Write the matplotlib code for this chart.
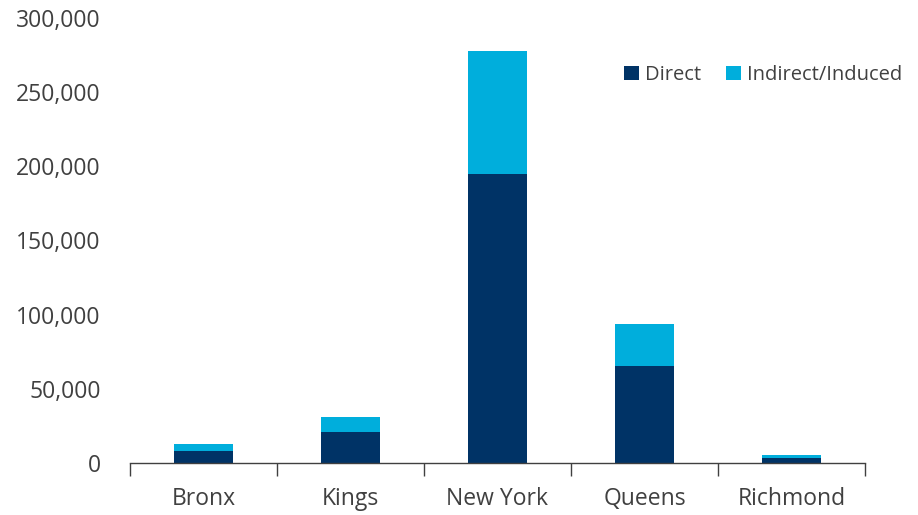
import numpy as np
import matplotlib
matplotlib.use("Agg")
import matplotlib.pyplot as plt
from matplotlib.ticker import FuncFormatter, FixedLocator

boroughs = ["Bronx", "Kings", "New York", "Queens", "Richmond"]
direct = [8300, 21100, 194800, 65400, 3600]
indirect = [4300, 9900, 82700, 28100, 1600]

DARK = "#003366"
LIGHT = "#00AEDC"
TXT = "#404040"

plt.rcParams["font.family"] = ["Open Sans", "DejaVu Sans"]

fig = plt.figure(figsize=(9.18, 5.15), dpi=100)
ax = fig.add_axes([130 / 918, 1 - 463 / 515, 735 / 918, 445 / 515])

x = np.arange(len(boroughs))
ax.bar(x, direct, width=0.4, color=DARK, label="Direct")
ax.bar(x, indirect, width=0.4, bottom=direct, color=LIGHT, label="Indirect/Induced")

ax.set_xlim(-0.5, len(boroughs) - 0.5)
ax.set_ylim(0, 300000)
ax.set_yticks(np.arange(0, 300001, 50000))
ax.yaxis.set_major_formatter(FuncFormatter(lambda v, p: f"{int(v):,}"))
ax.set_xticks(x)
ax.set_xticklabels(boroughs)
ax.xaxis.set_minor_locator(FixedLocator(np.arange(-0.5, len(boroughs), 1.0)))

for s in ["top", "right", "left"]:
    ax.spines[s].set_visible(False)
ax.spines["bottom"].set_color("#404040")
ax.spines["bottom"].set_linewidth(1.0)

ax.tick_params(axis="y", length=0, labelsize=16.5, labelcolor=TXT, pad=21)
ax.tick_params(axis="x", which="major", length=0, labelsize=16.5, labelcolor=TXT, pad=17)
ax.tick_params(axis="x", which="minor", length=9, width=1.0, color="#404040", direction="out")

leg = ax.legend(loc="upper right", bbox_to_anchor=(1.075, 0.935), ncol=2, frameon=False,
                fontsize=14.5, labelcolor=TXT, handlelength=0.75, handleheight=0.75,
                handletextpad=0.3, columnspacing=1.2)

fig.savefig("out.png", dpi=100)
